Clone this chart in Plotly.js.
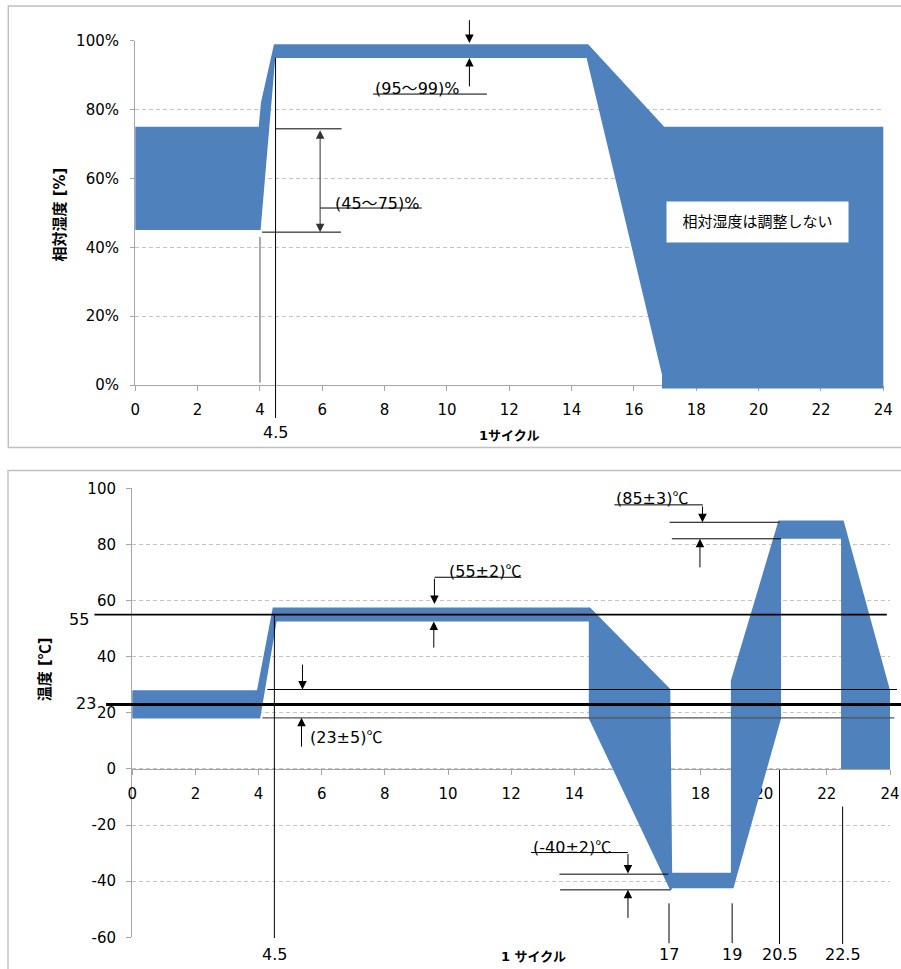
<!DOCTYPE html>
<html>
<head>
<meta charset="utf-8">
<script src="https://cdn.plot.ly/plotly-3.0.1.min.js"></script>
<style>html,body{margin:0;padding:0;background:#fff;}#chart{width:901px;height:969px;}</style>
</head>
<body>
<div id="chart"></div>
<script>
// ---------- data ----------
const hourTicks = [0, 2, 4, 6, 8, 10, 12, 14, 16, 18, 20, 22, 24];

// relative humidity band (top chart)
const rhTicks = [0, 20, 40, 60, 80, 100];
const rhTickText = ['0%', '20%', '40%', '60%', '80%', '100%'];
const rhUpperX = [0, 3.96, 4.03, 4.45, 14.53, 16.97, 24];
const rhUpperY = [75, 75, 82, 99, 99, 75, 75];
const rhLowerX = [0, 4.02, 4.49, 14.48, 16.9, 16.9, 24];
const rhLowerY = [45, 45, 95, 95, 3, -1, -1];
const rhKeyTimes = [4, 4.5];
const rhLow = [45, 75];     // (45~75)%
const rhHigh = [95, 99];    // (95~99)%

// temperature band (bottom chart)
const tempTicks = [-60, -40, -20, 0, 20, 40, 60, 80, 100];
const tempTickText = ['-60', '-40', '-20', '0', '20', '40', '60', '80', '100'];
const tUpperX = [0, 3.95, 4.45, 14.5, 17.04, 17.1, 18.96, 18.96, 20.47, 22.53, 24];
const tUpperY = [28, 28, 57.5, 57.5, 28.5, -37, -37, 31.5, 88.5, 88.5, 28];
const tLowerX = [0, 4.05, 4.57, 14.46, 14.46, 17.05, 17.1, 19.04, 20.55, 20.55, 22.45, 22.45, 24];
const tLowerY = [18, 18, 52.5, 52.5, 18, -43.5, -42.5, -42.5, 18, 82, 82, 0, 0];
const tempKeyTimes = [4.5, 17, 19, 20.5, 22.5];
const tempKeyLabels = ['4.5', '17', '19', '20.5', '22.5'];
const tempLevels = [55, 23];
const tol23 = [18.2, 28.3];
const tol55 = [52.5, 58.8];
const tol85 = [82, 87.9];
const tolM40 = [-43.1, -37.5];

// ---------- geometry ----------
const W = 901, H = 969;
const FONT = 'DejaVu Sans, Noto Sans CJK JP, sans-serif';
const CJK = s => '<span style="font-family:Noto Sans CJK JP">' + s + '</span>';
const DEG = CJK('℃'), WAVE = CJK('～');
const fx = p => p / W, fy = p => 1 - p / H;
const dom1x = [fx(135.3), fx(883.3)], dom1y = [fy(385), fy(40.7)];
const dom2x = [fx(132.3), fx(890)], dom2y = [fy(937.3), fy(488.3)];
const dom3y = [fy(456), 1], dom4y = [0, fy(458)];
function ext(r, d, D) {
  const s = (r[1] - r[0]) / (d[1] - d[0]);
  return [r[0] - (d[0] - D[0]) * s, r[1] + (D[1] - d[1]) * s];
}
const rhRange = [0, 100], tRange = [-60, 100], hRange = [0, 24];
const x3r = ext(hRange, dom1x, [0, 1]), y3r = ext(rhRange, dom1y, dom3y);
const x4r = ext(hRange, dom2x, [0, 1]), y4r = ext(tRange, dom2y, dom4y);
const zeroPos = dom2y[0] + (0 - tRange[0]) / (tRange[1] - tRange[0]) * (dom2y[1] - dom2y[0]);

const BLUE = '#4F81BD';
const AXC = '#A6A6A6', GRIDC = '#C4C4C4';

function poly(ux, uy, lx, ly, xa, ya) {
  return {
    x: ux.concat(lx.slice().reverse()), y: uy.concat(ly.slice().reverse()),
    xaxis: xa, yaxis: ya, mode: 'lines', fill: 'toself', fillcolor: BLUE,
    line: {width: 0, color: BLUE}, hoverinfo: 'skip'
  };
}
function seg(x, y, xa, ya, color, width) {
  return {x: x, y: y, xaxis: xa, yaxis: ya, mode: 'lines',
    line: {color: color || '#000', width: width || 1}, hoverinfo: 'skip'};
}

const traces = [];
// dummy anchors for the axis subplots
traces.push({x: [hourTicks[0]], y: [rhTicks[0]], xaxis: 'x', yaxis: 'y', mode: 'none', hoverinfo: 'skip'});
traces.push({x: [hourTicks[0]], y: [tempTicks[0]], xaxis: 'x2', yaxis: 'y2', mode: 'none', hoverinfo: 'skip'});

// ---- top ----
traces.push(poly(rhUpperX, rhUpperY, rhLowerX, rhLowerY, 'x3', 'y3'));
traces.push(seg([rhKeyTimes[0], rhKeyTimes[0]], [0.7, 43], 'x3', 'y3', '#555'));
traces.push(seg([rhKeyTimes[1], rhKeyTimes[1]], [rhHigh[0], -9.6], 'x3', 'y3'));
traces.push(seg([rhKeyTimes[1], 6.62], [rhLow[1] - 0.6, rhLow[1] - 0.6], 'x3', 'y3'));
traces.push(seg([4.07, 6.6], [rhLow[0] - 0.6, rhLow[0] - 0.6], 'x3', 'y3'));
traces.push(seg([5.93, 9.19], [51.4, 51.4], 'x3', 'y3'));
traces.push(seg([7.63, 11.28], [84.5, 84.5], 'x3', 'y3'));

// ---- bottom ----
traces.push(poly(tUpperX, tUpperY, tLowerX, tLowerY, 'x4', 'y4'));
traces.push(seg([-1.2, 23.9], [tempLevels[0], tempLevels[0]], 'x4', 'y4', '#000', 1.6));
traces.push(seg([-0.83, 24.6], [tempLevels[1], tempLevels[1]], 'x4', 'y4', '#000', 3));
traces.push(seg([4.28, 24.22], [tol23[1], tol23[1]], 'x4', 'y4', '#000', 1));
traces.push(seg([4.12, 24.14], [tol23[0], tol23[0]], 'x4', 'y4', '#555', 1.3));
traces.push(seg([17.02, 20.5], [tol85[1], tol85[1]], 'x4', 'y4'));
traces.push(seg([17.09, 20.55], [tol85[0], tol85[0]], 'x4', 'y4'));
traces.push(seg([15.27, 18.07], [94.1, 94.1], 'x4', 'y4'));
traces.push(seg([13.53, 16.98], [tolM40[1], tolM40[1]], 'x4', 'y4'));
traces.push(seg([13.55, 17.04], [tolM40[0], tolM40[0]], 'x4', 'y4'));
traces.push(seg([12.63, 15.70], [-29.8, -29.8], 'x4', 'y4'));
traces.push(seg([9.57, 12.32], [68.3, 68.3], 'x4', 'y4'));
const keyTops = [tempLevels[0], -47.9, -47.9, -0.4, -13.4];
const keyBottoms = [-60.3, -62.1, -62.1, -62.4, -62.4];
tempKeyTimes.forEach((t, i) => traces.push(seg([t, t], [keyTops[i], keyBottoms[i]], 'x4', 'y4')));

// ---------- annotations ----------
const ann = [];
function arrow(x, tail, tip, xa, ya, both, color) {
  const a = {x: x, y: tip, ax: x, ay: tail, xref: xa, yref: ya, axref: xa, ayref: ya,
    text: '', showarrow: true, arrowhead: 2, arrowsize: 1.7, arrowwidth: 1, arrowcolor: color || '#000', standoff: 0};
  if (both) { a.arrowside = 'end+start'; a.startarrowhead = 2; a.startarrowsize = 1.7; a.startstandoff = 0; }
  ann.push(a);
}
function label(text, x, y, xa, ya, xanchor, extra) {
  ann.push(Object.assign({text: text, x: x, y: y, xref: xa, yref: ya, xanchor: xanchor || 'center',
    yanchor: 'middle', showarrow: false, font: {family: FONT, size: 16, color: '#000'}}, extra || {}));
}
// top
arrow(5.93, rhLow[1] - 0.6, rhLow[0] - 0.6, 'x3', 'y3', true, '#333');
arrow(10.72, 106.4, 99.3, 'x3', 'y3');
arrow(10.72, 86.3, 95, 'x3', 'y3');
label('(' + rhHigh[0] + WAVE + rhHigh[1] + ')%', 7.63, 86.6, 'x3', 'y3', 'left');
label('(' + rhLow[0] + WAVE + rhLow[1] + ')%', 6.33, 53.2, 'x3', 'y3', 'left');
label('相対湿度は調整しない', 19.96, 47.4, 'x3', 'y3', 'center',
  {bgcolor: '#fff', width: 181, height: 40, borderpad: 0, font: {family: FONT, size: 15, color: '#000'}});
label(String(rhKeyTimes[1]), rhKeyTimes[1], -13.7, 'x3', 'y3');
// bottom
arrow(5.39, 37.7, tol23[1], 'x4', 'y4');
arrow(5.36, 7.4, tol23[0], 'x4', 'y4');
arrow(9.57, 68.3, tol55[1], 'x4', 'y4');
arrow(9.55, 42.7, tol55[0], 'x4', 'y4');
arrow(18.06, 94.1, tol85[1], 'x4', 'y4');
arrow(17.98, 71.3, tol85[0], 'x4', 'y4');
arrow(15.70, -29.8, tolM40[1] + 0.2, 'x4', 'y4');
arrow(15.70, -53.6, tolM40[0], 'x4', 'y4');
label(String(tempLevels[0]), -1.31, 53.3, 'x4', 'y4', 'right');
label(String(tempLevels[1]), -1.10, 23.4, 'x4', 'y4', 'right');
label('(23±5)' + DEG, 5.56, 11.9, 'x4', 'y4', 'left');
label('(55±2)' + DEG, 9.96, 70.9, 'x4', 'y4', 'left');
label('(85±3)' + DEG, 15.27, 96.8, 'x4', 'y4', 'left');
label('(-40±2)' + DEG, 12.64, -27.3, 'x4', 'y4', 'left');
tempKeyTimes.forEach((t, i) => label(tempKeyLabels[i], t, -66.3, 'x4', 'y4'));
// axis titles
const tfont = s => ({family: FONT, size: s, color: '#000', weight: 'bold'});
function title(text, px, py, size, angle) {
  ann.push({text: '<b>' + text + '</b>', x: fx(px), y: fy(py), xref: 'paper', yref: 'paper',
    xanchor: 'center', yanchor: 'middle', textangle: angle || 0, showarrow: false, font: tfont(size)});
}
title('相対湿度 [%]', 59, 214.5, 15, -90);
title('1サイクル', 509, 435, 13);
title('温度 [' + DEG + ']', 43.3, 669, 15, -90);
title('1 サイクル', 533.3, 956.7, 13);

const tickFont = {family: FONT, size: 15, color: '#000'};
const hidden = {visible: false, fixedrange: true};
const layout = {
  width: W, height: H, margin: {l: 0, r: 0, t: 0, b: 0},
  paper_bgcolor: '#fff', plot_bgcolor: 'rgba(0,0,0,0)', showlegend: false,
  xaxis: {domain: dom1x, range: hRange, anchor: 'y', tickvals: hourTicks, ticks: 'outside', ticklen: 5,
    tickcolor: AXC, showline: true, linecolor: AXC, linewidth: 1.3, showgrid: false, zeroline: false,
    tickfont: tickFont, ticklabelstandoff: 6, fixedrange: true},
  yaxis: {domain: dom1y, range: rhRange, anchor: 'x', tickvals: rhTicks, ticktext: rhTickText, ticks: 'outside',
    ticklen: 4, tickcolor: AXC, showline: true, linecolor: AXC, linewidth: 1.3, showgrid: true, gridcolor: GRIDC,
    griddash: '4px,3px', zeroline: false, tickfont: tickFont, ticklabelstandoff: 8, fixedrange: true},
  xaxis2: {domain: dom2x, range: hRange, anchor: 'free', position: zeroPos, tickvals: hourTicks, ticks: 'outside',
    ticklen: 5, tickcolor: AXC, showline: true, linecolor: AXC, linewidth: 1.3, showgrid: false, zeroline: false,
    tickfont: tickFont, ticklabelstandoff: 6, fixedrange: true},
  yaxis2: {domain: dom2y, range: tRange, anchor: 'x2', tickvals: tempTicks, ticktext: tempTickText, ticks: 'outside', ticklen: 5,
    tickcolor: AXC, showline: true, linecolor: AXC, linewidth: 1.3, showgrid: true, gridcolor: GRIDC,
    griddash: '4px,3px', zeroline: false, tickfont: tickFont, ticklabelstandoff: 7, fixedrange: true},
  xaxis3: Object.assign({domain: [0, 1], range: x3r, anchor: 'y3'}, hidden),
  yaxis3: Object.assign({domain: dom3y, range: y3r, anchor: 'x3'}, hidden),
  xaxis4: Object.assign({domain: [0, 1], range: x4r, anchor: 'y4'}, hidden),
  yaxis4: Object.assign({domain: dom4y, range: y4r, anchor: 'x4'}, hidden),
  annotations: ann,
  shapes: [
    {type: 'rect', xref: 'paper', yref: 'paper', x0: fx(8.3), x1: 1.02, y0: fy(447.5), y1: fy(6),
      line: {color: '#BFBFBF', width: 1.4}, layer: 'below'},
    {type: 'rect', xref: 'paper', yref: 'paper', x0: fx(8), x1: 1.02, y0: -0.02, y1: fy(470.5),
      line: {color: '#BFBFBF', width: 1.4}, layer: 'below'}
  ]
};
Plotly.newPlot('chart', traces, layout, {staticPlot: true, displayModeBar: false});
</script>
</body>
</html>
